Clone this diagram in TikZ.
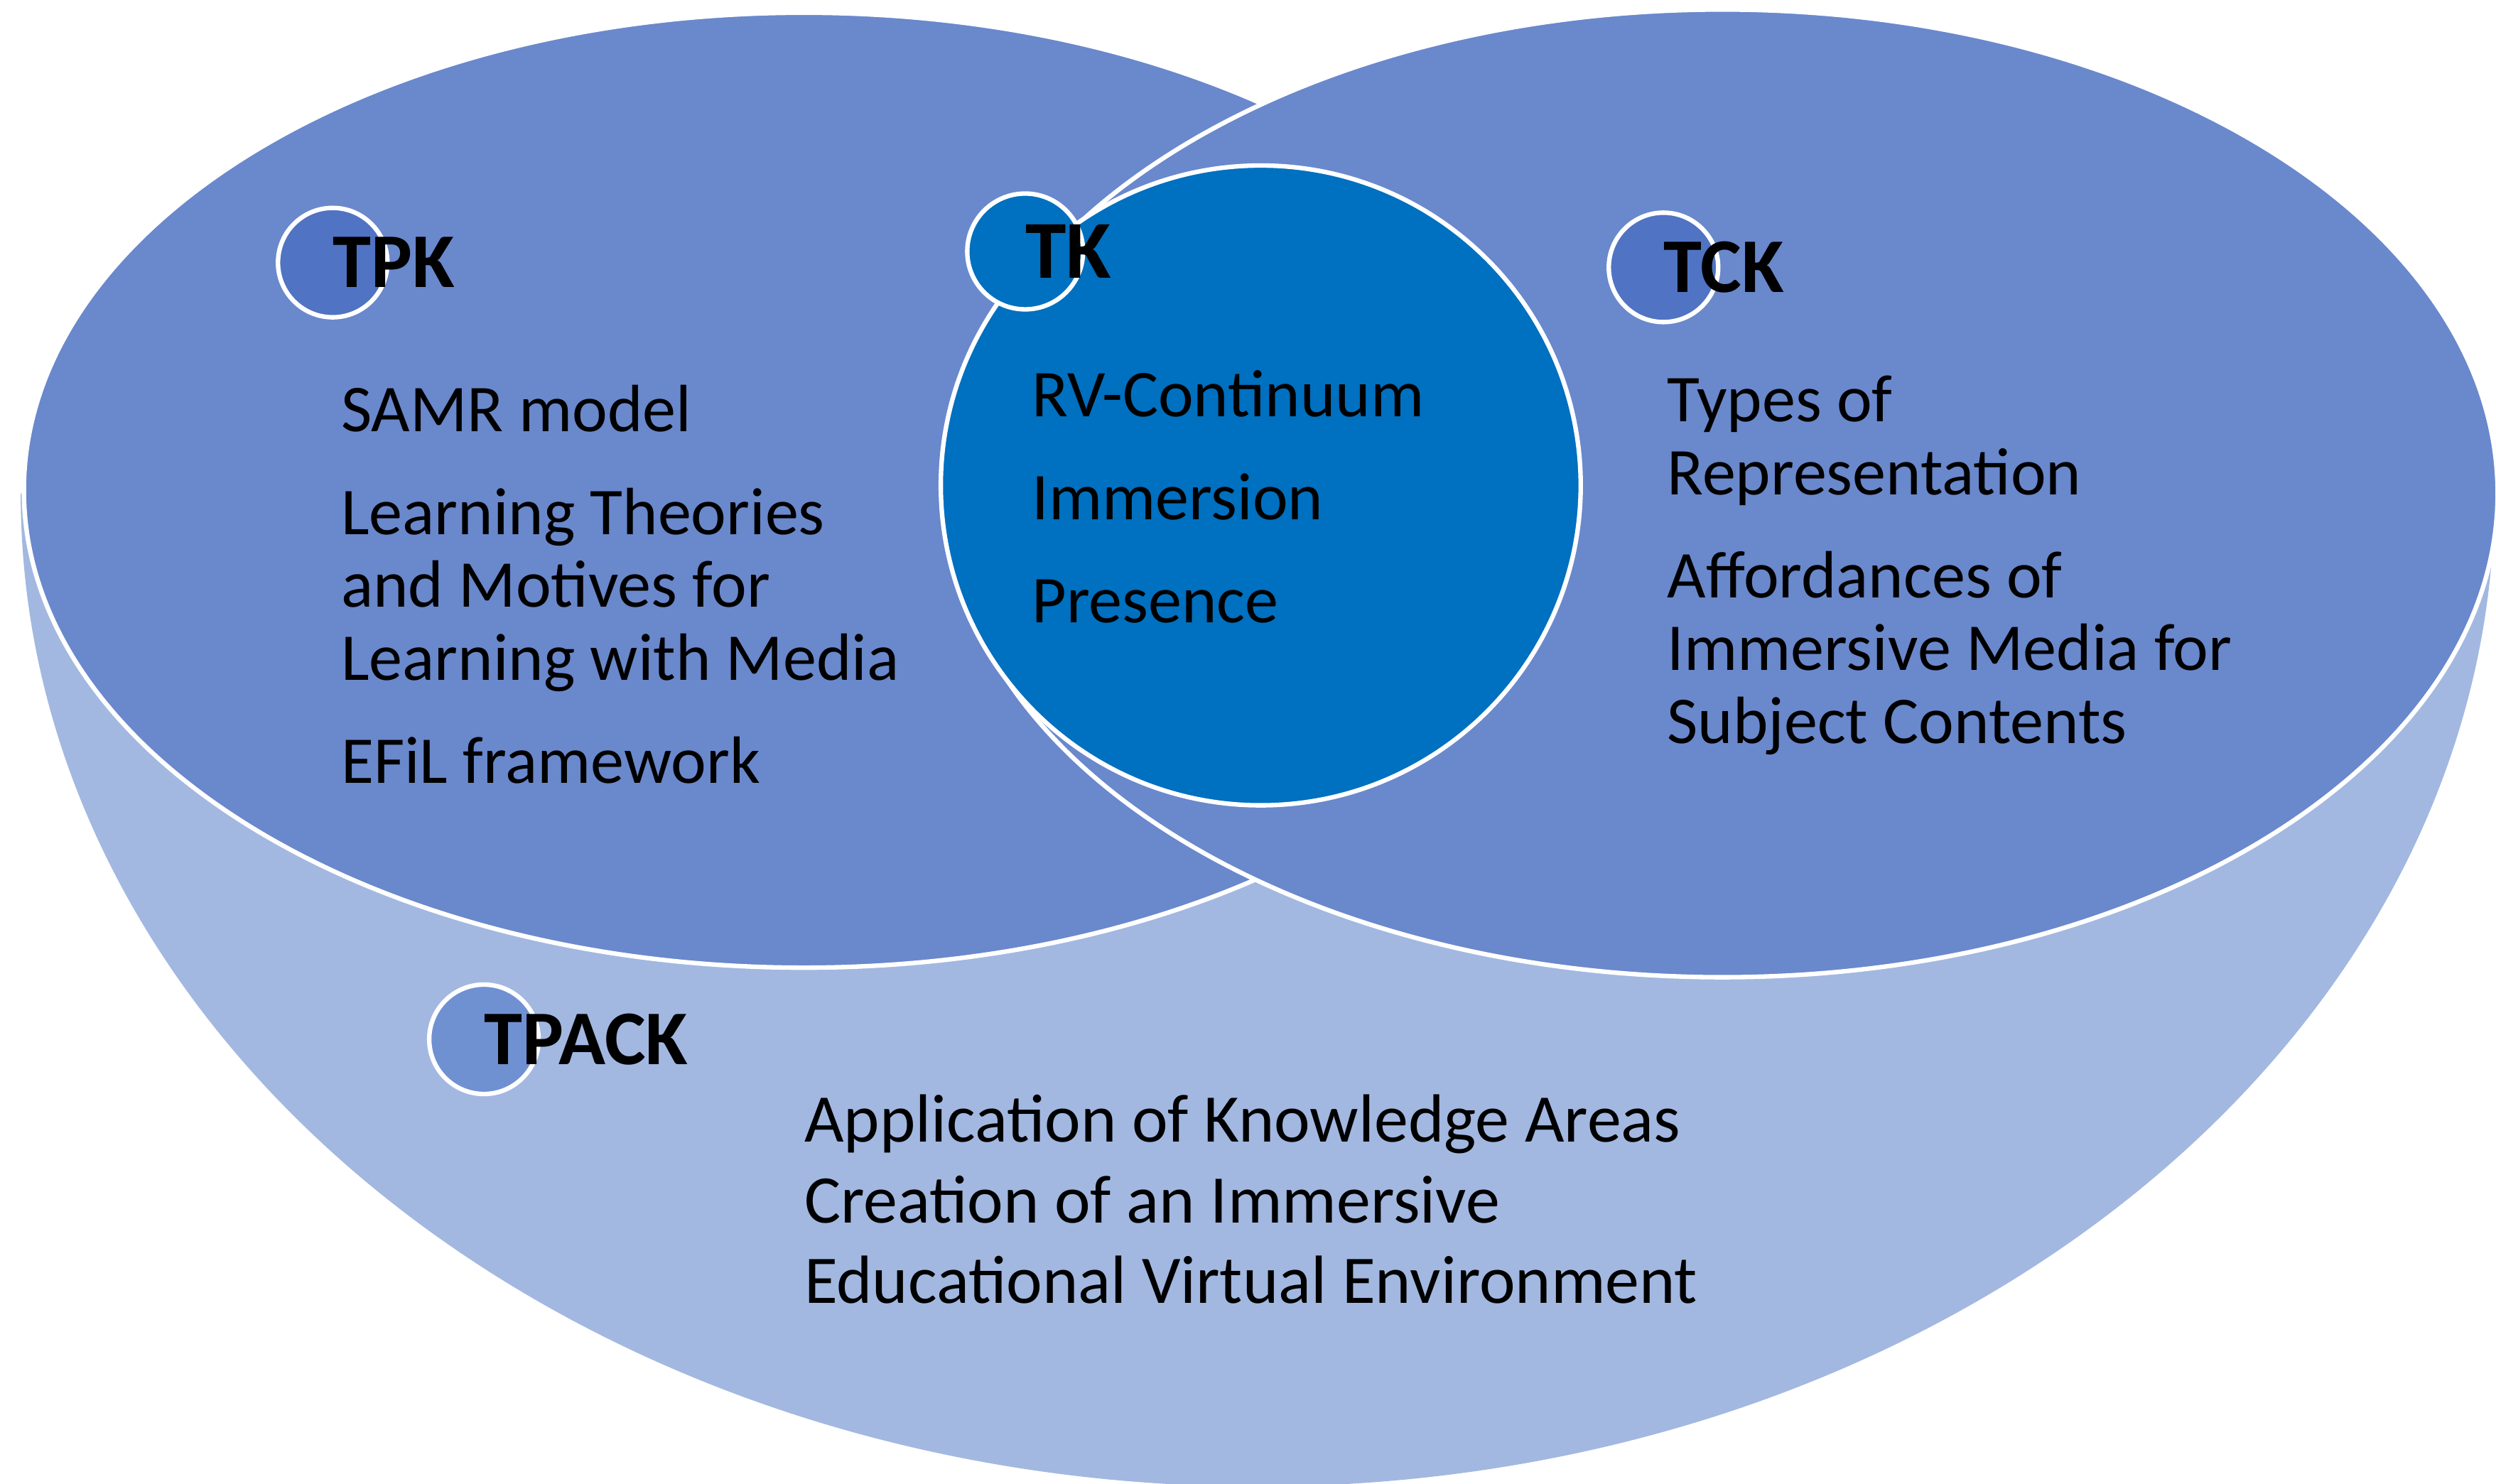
\documentclass[tikz,border=0pt]{standalone}
\usepackage{fontspec}
\setmainfont{Carlito}

\definecolor{bowlblue}{HTML}{A2B8E1}
\definecolor{setblue}{HTML}{6A88CC}
\definecolor{dotblue}{HTML}{5073C3}
\definecolor{tpackdot}{HTML}{6F91D1}
\definecolor{tkblue}{HTML}{0070C0}

\tikzset{
  area/.style={fill=setblue, draw=white, line width=1.8pt},
  dot/.style={circle, fill=dotblue, draw=white, line width=1.8pt, inner sep=0pt, minimum size=15.4mm},
  heading/.style={anchor=west, inner sep=0pt, font=\fontsize{31}{31}\selectfont\bfseries},
  items/.style={anchor=base west, inner sep=0pt, align=left, font=\fontsize{26.8}{29.2}\selectfont},
}

\begin{document}
\begin{tikzpicture}[x=0.22404mm, y=0.22404mm]
      \useasboundingbox (0,0) rectangle (1568,932);
      % bowl (TPACK)
      \fill[bowlblue] (13,622) arc[start angle=180, end angle=360, x radius=777, y radius=624] -- cycle;
      % the two sets and TK
      \draw[area] (505,624) ellipse [x radius=490, y radius=300];
      \draw[area] (1082,622) ellipse [x radius=487, y radius=304];
      \draw[area, fill=tkblue] (792,627) circle [radius=201];
      % small circles
      \node[dot] (tpk) at (209,767) {};
      \node[dot, fill=tkblue, minimum size=16.3mm] (tk) at (644,774) {};
      \node[dot] (tck) at (1045,764) {};
      \node[dot, fill=tpackdot] (tpack) at (304,279) {};
      \node[heading] (tpklabel) at (tpk.center) {TPK};
      \node[heading, font=\fontsize{33}{33}\selectfont\bfseries] (tklabel) at (tk.center) {TK};
      \node[heading] (tcklabel) at (tck.center) {TCK};
      \node[heading] (tpacklabel) at (tpack.center) {TPACK};
      % contents (base = last line)
      \node[items] (tpkitems) at (214,440) {SAMR model\\[12pt] Learning Theories\\ and Motives for\\ Learning with Media\\[12pt] EFiL framework};
      \node[items] (tkitems) at (648,541) {RV-Continuum\\[12pt] Immersion\\[12pt] Presence};
      \node[items] (tckitems) at (1047,465) {Types of\\ Representation\\[12pt] Affordances of\\ Immersive Media for\\ Subject Contents};
      \node[items, font=\fontsize{27.3}{32.4}\selectfont] (tpackitems) at (505,113) {Application of Knowledge Areas\\ Creation of an Immersive\\ Educational Virtual Environment};
\end{tikzpicture}
\end{document}
